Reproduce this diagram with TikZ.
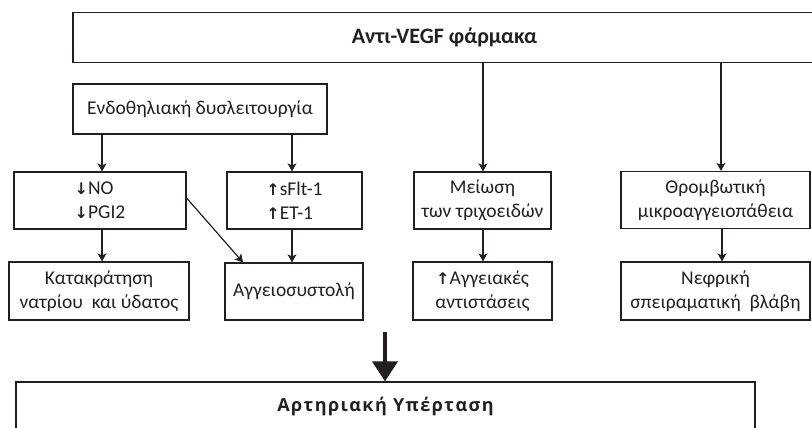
\documentclass[tikz,border=0pt]{standalone}
\usepackage{fontspec}
\setmainfont{Carlito}
\newfontfamily\arrfont{DejaVu Sans}
\newfontfamily\spacedfont[LetterSpace=8]{Open Sans}
\usetikzlibrary{arrows.meta}
\definecolor{ink}{RGB}{35,31,32}
\newcommand{\dn}{{\arrfont\bfseries\fontsize{16pt}{16pt}\selectfont ↓}}
\newcommand{\up}{{\arrfont\bfseries\fontsize{16pt}{16pt}\selectfont ↑}}
\tikzset{
  box/.style={draw=ink, line width=1.2pt, inner sep=0pt, align=center, text=ink,
    font=\fontsize{19.5pt}{24pt}\selectfont},
  arr/.style={draw=ink, line width=1.2pt, -{Stealth[length=8pt,width=9pt,inset=2pt]}},
  bigarr/.style={draw=ink, line width=4pt, -{Triangle[length=20pt,width=25pt]}}
}
\begin{document}
\begin{tikzpicture}[x=1pt,y=-1pt]
\useasboundingbox (0,0) rectangle (812,428);
\clip (0,0) rectangle (812,428);
\node[box, minimum width=743pt, minimum height=49.5pt, font=\fontsize{22pt}{24pt}\bfseries\selectfont] (drug) at (444.5,37.5) {Αντι-VEGF φάρμακα};
\node[box, minimum width=254pt, minimum height=50pt] (endo) at (200,109) {Ενδοθηλιακή δυσλειτουργία};
\node[box, minimum width=172pt, minimum height=57pt, align=left] (no) at (100,200.5) {\dn NO\\\dn PGI2};
\node[box, minimum width=135pt, minimum height=57pt, align=left] (sflt) at (294.5,200.5) {\up sFlt-1\\\up ET-1};
\node[box, minimum width=137pt, minimum height=57pt] (meio) at (482.5,200.5) {Μείωση\\των τριχοειδών};
\node[box, minimum width=189pt, minimum height=57pt] (thromb) at (715.5,200) {Θρομβωτική\\μικροαγγειοπάθεια};
\node[box, minimum width=180pt, minimum height=58pt] (kata) at (99,291) {Κατακράτηση\\νατρίου\ \ και ύδατος};
\node[box, minimum width=138pt, minimum height=57pt] (aggeio) at (294,291.5) {Αγγειοσυστολή};
\node[box, minimum width=139pt, minimum height=58pt] (aggeiakes) at (482.5,291) {\up Αγγειακές\\αντιστάσεις};
\node[box, minimum width=189pt, minimum height=58pt] (nefr) at (715.5,291) {Νεφρική\\σπειραματική\ \ βλάβη};
\node[box, minimum width=739pt, minimum height=48pt, font=\spacedfont\fontsize{18pt}{20pt}\bfseries\selectfont] (hyp) at (385.5,406) {Αρτηριακή Υπέρταση};
\coordinate (bigstart) at (385,332);
\draw[arr] (endo.south -| 102,0) -- (no.north -| 102,0);
\draw[arr] (endo.south -| 292,0) -- (sflt.north -| 292,0);
\draw[arr] (drug.south -| 483,0) -- (meio.north -| 483,0);
\draw[arr] (drug.south -| 721,0) -- (thromb.north -| 721,0);
\draw[arr] (no.south -| 102,0) -- (kata.north -| 102,0);
\draw[arr] (sflt.south -| 292,0) -- (aggeio.north -| 292,0);
\draw[arr] (meio.south -| 483,0) -- (aggeiakes.north -| 483,0);
\draw[arr] (thromb.south -| 722,0) -- (nefr.north -| 722,0);
\draw[arr] (no.east |- 0,198) -- (aggeio.north -| 243,0);
\draw[bigarr] (bigstart) -- (hyp.north -| bigstart);
\end{tikzpicture}
\end{document}
